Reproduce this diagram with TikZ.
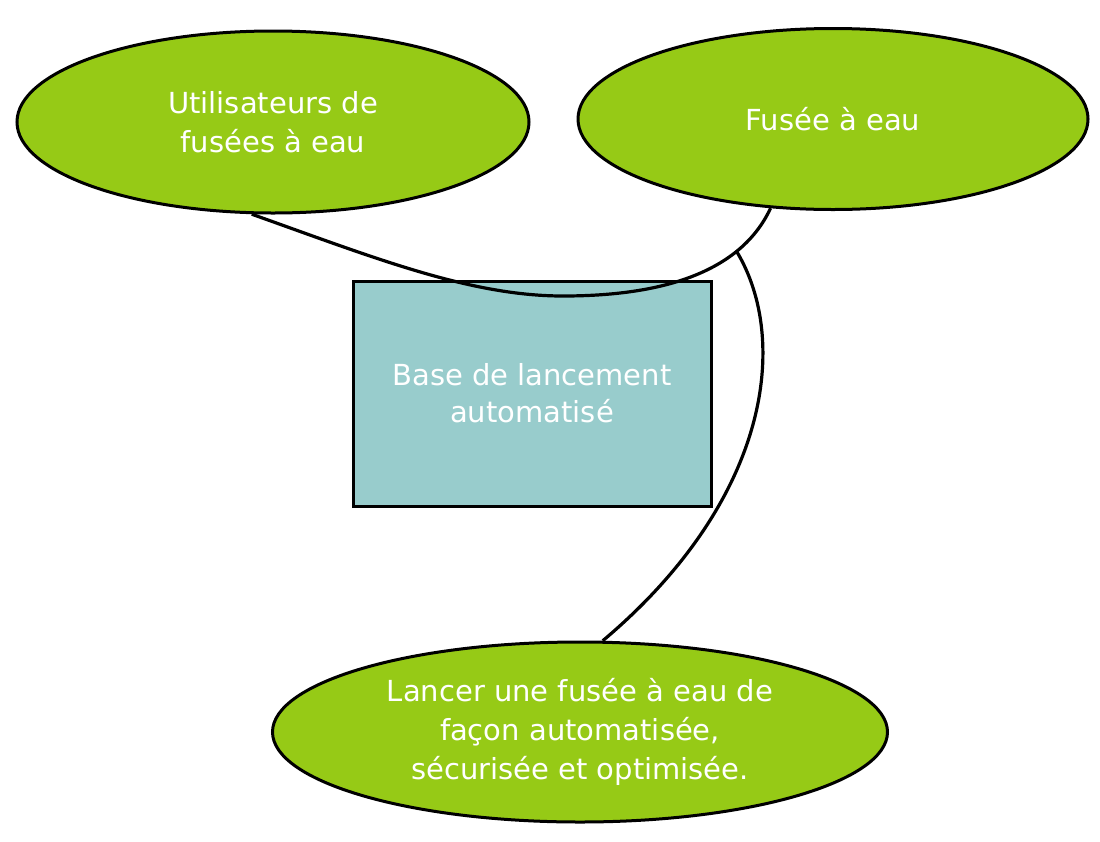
\documentclass[tikz,border=0pt]{standalone}
\usepackage{fontspec}
\setmainfont{DejaVu Sans}
\usetikzlibrary{shapes.geometric}
\definecolor{leaf}{RGB}{150,202,22}
\definecolor{tealbox}{RGB}{152,204,204}
\begin{document}
\begin{tikzpicture}[x=1pt,y=-1pt,
  bubble/.style={ellipse, draw=black, line width=3pt, fill=leaf, text=white,
    inner sep=0pt, align=center, font=\fontsize{29}{39}\selectfont},
  boxnode/.style={rectangle, draw=black, line width=3pt, fill=tealbox, text=white,
    inner sep=0pt, align=center, font=\fontsize{29}{37}\selectfont},
  link/.style={draw=black, line width=3.2pt}]
\useasboundingbox[fill=white] (0,0) rectangle (1100,841);
\node[boxnode, minimum width=358pt, minimum height=225pt] (base) at (532,393.5) {Base de lancement\\automatisé};
\node[bubble, minimum width=512pt, minimum height=182pt] (users) at (273,122) {Utilisateurs de\\fusées à eau};
\node[bubble, minimum width=510pt, minimum height=181pt] (rocket) at (833,119) {Fusée à eau};
\node[bubble, minimum width=615pt, minimum height=180pt] (goal) at (580,732) {Lancer une fusée à eau de\\façon automatisée,\\sécurisée et optimisée.};
\coordinate (low) at (563,296);
\draw[link] (users.257) .. controls (375,258) and (470,296) .. (low)
  .. controls (650,296) and (738,278) .. (rocket.235) coordinate[pos=0.75] (join);
\draw[link] (join) .. controls (790,340) and (770,500) .. (goal.76);
\end{tikzpicture}
\end{document}
